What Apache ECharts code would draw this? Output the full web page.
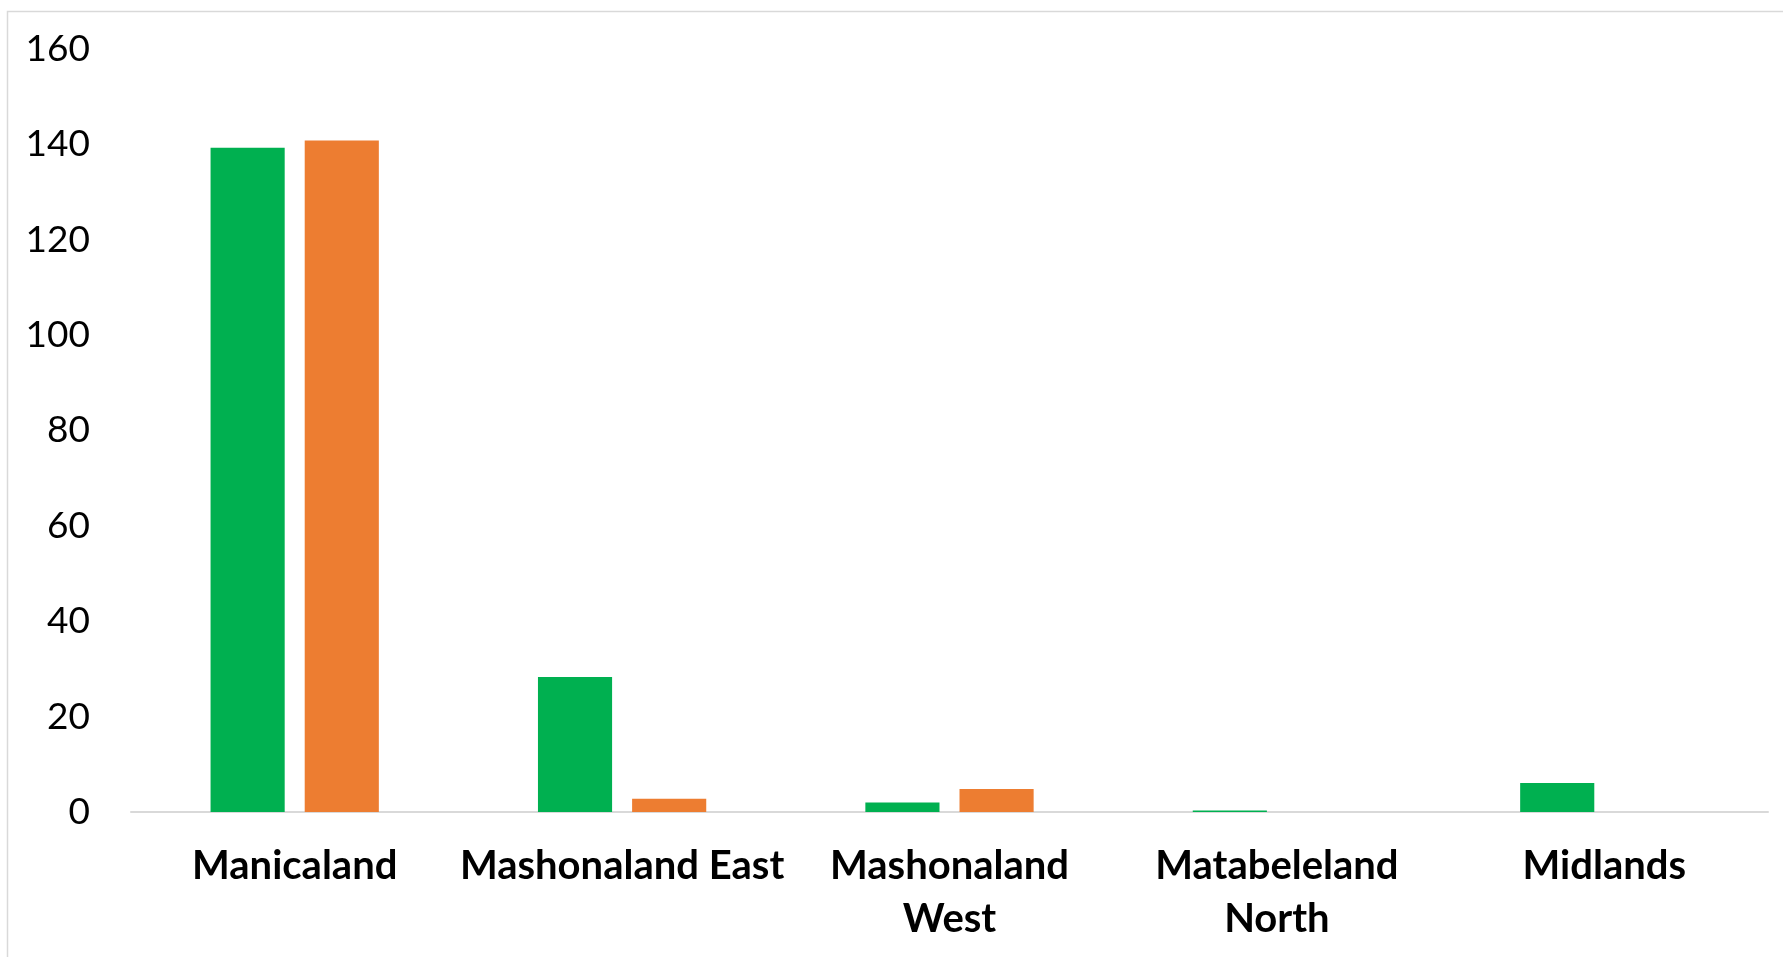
<!DOCTYPE html>
<html>
<head>
<meta charset="utf-8">
<script src="https://cdn.jsdelivr.net/npm/echarts@6/dist/echarts.min.js"></script>
<style>
html,body{margin:0;padding:0;background:#fff;}
#chart{width:1783px;height:957px;}
</style>
</head>
<body>
<div id="chart"></div>
<script>
const categories = ['Manicaland', 'Mashonaland East', 'Mashonaland West', 'Matabeleland North', 'Midlands'];
const tickLabels = ['Manicaland', 'Mashonaland East', 'Mashonaland\nWest', 'Matabeleland\nNorth', 'Midlands'];
const seriesGreen = [139.3, 28.3, 2.0, 0.3, 6.1];
const seriesOrange = [140.8, 2.8, 4.8, 0, 0];
const yTicks = [0, 20, 40, 60, 80, 100, 120, 140, 160];

const chart = echarts.init(document.getElementById('chart'), null, {renderer: 'canvas'});
chart.setOption({
  animation: false,
  backgroundColor: '#ffffff',
  graphic: [{
    type: 'rect',
    shape: {x: 7.5, y: 11.5, width: 3000, height: 3000},
    style: {fill: 'none', stroke: '#d9d9d9', lineWidth: 1.5},
    silent: true
  }],
  grid: {left: 131, right: 15, top: 49, bottom: 145, containLabel: false},
  xAxis: {
    type: 'category',
    data: categories,
    axisLine: {show: true, lineStyle: {color: '#d9d9d9', width: 2}},
    axisTick: {show: false},
    axisLabel: {
      interval: 0,
      margin: 28,
      color: '#000000',
      fontFamily: 'Lato',
      fontWeight: 'bold',
      fontSize: 40,
      lineHeight: 53,
      formatter: (v, i) => tickLabels[i]
    }
  },
  yAxis: {
    type: 'value',
    min: yTicks[0],
    max: yTicks[yTicks.length - 1],
    interval: 20,
    axisLine: {show: false},
    axisTick: {show: false},
    splitLine: {show: false},
    axisLabel: {
      margin: 41,
      color: '#000000',
      fontFamily: 'Lato',
      fontSize: 37
    }
  },
  series: [
    {
      type: 'bar',
      name: 'Series 1',
      data: seriesGreen,
      itemStyle: {color: '#00B050'},
      barGap: '27%',
      barCategoryGap: '48.6%'
    },
    {
      type: 'bar',
      name: 'Series 2',
      data: seriesOrange,
      itemStyle: {color: '#ED7D31'},
      barGap: '27%',
      barCategoryGap: '48.6%'
    }
  ]
});
</script>
</body>
</html>
